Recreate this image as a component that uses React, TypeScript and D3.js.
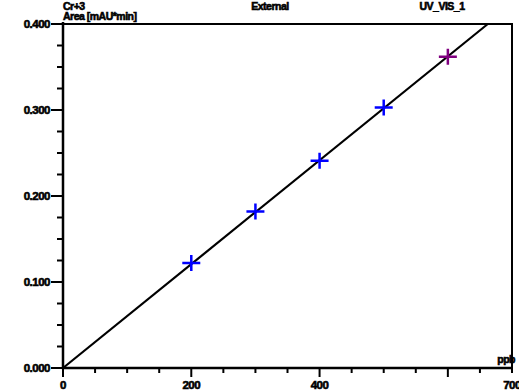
import { useEffect, useRef } from 'react';
import * as d3 from 'd3';

// calibration points (amount in ppb, area in mAU*min)
const amounts = [200, 300, 400, 500, 600];
const areas = [0.122, 0.182, 0.241, 0.303, 0.362];
const pointColors = ['#0000ff', '#0000ff', '#0000ff', '#0000ff', '#800080'];
const slope = 0.000604;
const xLabels = [0, 200, 400, 700];
const yLabels = [0, 0.1, 0.2, 0.3, 0.4];

const App = () => {
	const ref = useRef<SVGSVGElement>(null);

	useEffect(() => {
		const svg = d3.select(ref.current);
		svg.selectAll('*').remove();

		const x = d3.scaleLinear().domain([0, 700]).range([63, 512]);
		const y = d3.scaleLinear().domain([0, 0.4]).range([368, 24]);
		const font = 'Liberation Sans, Arial, sans-serif';

		// minor / major ticks on x
		const xt = d3.range(0, 701, 50);
		svg.selectAll('.xt').data(xt).enter().append('line')
			.attr('x1', (d) => x(d)).attr('x2', (d) => x(d))
			.attr('y1', y(0)).attr('y2', (d) => y(0) + (d % 200 === 0 || d === 600 ? 9 : 5))
			.attr('stroke', '#000').attr('stroke-width', 2);

		const yt = d3.range(0, 17).map((i) => i * 0.025);
		svg.selectAll('.yt').data(yt).enter().append('line')
			.attr('y1', (d) => y(d)).attr('y2', (d) => y(d))
			.attr('x1', x(0)).attr('x2', (d, i) => x(0) - (i % 4 === 0 ? 12 : 6))
			.attr('stroke', '#000').attr('stroke-width', 2);

		// frame
		svg.append('path')
			.attr('d', `M${x(0)},${y(0.4)}H${x(700)}V${y(0)}`)
			.attr('fill', 'none').attr('stroke', '#000').attr('stroke-width', 2);
		svg.append('path')
			.attr('d', `M${x(0)},${y(0.4) - 2}V${y(0)}H${x(700)}`)
			.attr('fill', 'none').attr('stroke', '#000').attr('stroke-width', 2.5);

		const txt = (sel: any, size = 11.5) => sel
			.attr('font-family', font).attr('font-weight', 'bold').attr('font-size', size)
			.attr('stroke', '#000').attr('stroke-width', 0.6)
			.attr('letter-spacing', -0.5);

		// labels
		svg.selectAll('.xl').data(xLabels).enter().append('text')
			.attr('x', (d) => x(d)).attr('y', y(0) + 21)
			.attr('text-anchor', 'middle')
			.call(txt)
			.text((d) => d);
		svg.selectAll('.yl').data(yLabels).enter().append('text')
			.attr('x', 50).attr('y', (d) => y(d) + 4)
			.attr('text-anchor', 'end')
			.call(txt)
			.text((d) => d.toFixed(3));

		const hdr = [
			{ t: 'Cr+3', x: 63, y: 9.5, a: 'start' },
			{ t: 'Area  [mAU*min]', x: 63, y: 20, a: 'start' },
			{ t: 'External', x: 270, y: 9.5, a: 'middle' },
			{ t: 'UV_VIS_1', x: 442, y: 9.5, a: 'middle' },
			{ t: 'ppb', x: 515, y: 363, a: 'end' },
		];
		svg.selectAll('.hd').data(hdr).enter().append('text')
			.attr('x', (d) => d.x).attr('y', (d) => d.y)
			.attr('text-anchor', (d) => d.a)
			.call(txt, 10.5)
			.text((d) => d.t);

		// calibration line
		const xEnd = 0.4 / slope;
		svg.append('line')
			.attr('x1', x(0)).attr('y1', y(0))
			.attr('x2', x(xEnd)).attr('y2', y(slope * xEnd))
			.attr('stroke', '#000').attr('stroke-width', 2.2);

		// points
		const pts = svg.selectAll('.pt').data(amounts).enter().append('g')
			.attr('transform', (d, i) => `translate(${x(d)},${y(areas[i])})`);
		pts.append('path')
			.attr('d', 'M-9,0H9M0,-8V8')
			.attr('stroke', (d, i) => pointColors[i]).attr('stroke-width', 2.5);
	}, []);

	return (
		<svg
			ref={ref}
			width={519}
			height={391}
			style={{ position: 'absolute', left: 0, top: 0, display: 'block' }}
		/>
	);
};

export default App;
